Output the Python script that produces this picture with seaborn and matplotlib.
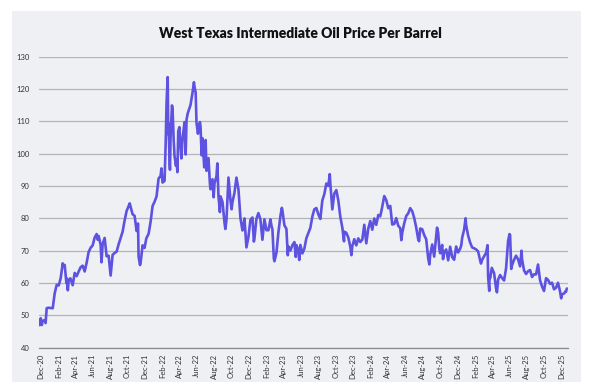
import matplotlib
matplotlib.use("Agg")
import matplotlib.pyplot as plt
import pandas as pd
import seaborn as sns

# ---- data (WTI, $/barrel) ----
dates_2020 = ["2020-12-14", "2020-12-18", "2020-12-22", "2020-12-24", "2020-12-31"]
prices_2020 = [46.99, 49.10, 47.02, 48.23, 48.52]

dates_2021 = ["2021-01-04", "2021-01-08", "2021-01-15", "2021-01-22", "2021-01-29", "2021-02-05", "2021-02-12",
              "2021-02-19", "2021-02-26", "2021-03-05", "2021-03-08", "2021-03-12", "2021-03-18", "2021-03-19",
              "2021-03-23", "2021-03-26", "2021-04-01", "2021-04-09", "2021-04-16", "2021-04-23", "2021-04-30",
              "2021-05-07", "2021-05-14", "2021-05-21", "2021-05-28", "2021-06-04", "2021-06-11", "2021-06-18",
              "2021-06-25", "2021-07-02", "2021-07-06", "2021-07-09", "2021-07-16", "2021-07-19", "2021-07-23",
              "2021-07-30", "2021-08-06", "2021-08-13", "2021-08-20", "2021-08-27", "2021-09-03", "2021-09-10",
              "2021-09-17", "2021-09-24", "2021-10-01", "2021-10-08", "2021-10-15", "2021-10-22", "2021-10-26",
              "2021-10-29", "2021-11-05", "2021-11-12", "2021-11-19", "2021-11-24", "2021-11-26", "2021-12-01",
              "2021-12-03", "2021-12-10", "2021-12-17", "2021-12-23", "2021-12-31"]
prices_2021 = [47.62, 52.24, 52.36, 52.27, 52.20, 56.85, 59.47,
               59.24, 61.50, 66.09, 65.05, 65.61, 60.00, 61.42,
               57.76, 60.97, 61.45, 59.32, 63.13, 62.14, 63.58,
               64.90, 65.37, 63.58, 66.32, 69.62, 70.91, 71.64,
               74.05, 75.16, 73.37, 74.56, 71.81, 66.42, 72.07,
               73.95, 68.28, 68.44, 62.32, 68.74, 69.29, 69.72,
               71.97, 73.98, 75.88, 79.35, 82.28, 83.76, 84.65,
               83.57, 81.27, 80.79, 76.10, 78.39, 68.15, 65.57,
               66.26, 71.67, 70.86, 73.79, 75.21]

dates_2022 = ["2022-01-07", "2022-01-14", "2022-01-21", "2022-01-28", "2022-02-04", "2022-02-11", "2022-02-14",
              "2022-02-18", "2022-02-25", "2022-03-01", "2022-03-04", "2022-03-08", "2022-03-10", "2022-03-11",
              "2022-03-15", "2022-03-16", "2022-03-18", "2022-03-23", "2022-03-25", "2022-03-29", "2022-04-01",
              "2022-04-06", "2022-04-08", "2022-04-11", "2022-04-14", "2022-04-18", "2022-04-22", "2022-04-25",
              "2022-04-29", "2022-05-06", "2022-05-10", "2022-05-13", "2022-05-17", "2022-05-20", "2022-05-27",
              "2022-06-03", "2022-06-08", "2022-06-10", "2022-06-14", "2022-06-17", "2022-06-22", "2022-06-24",
              "2022-06-29", "2022-07-01", "2022-07-05", "2022-07-08", "2022-07-14", "2022-07-15", "2022-07-19",
              "2022-07-22", "2022-07-29", "2022-08-03", "2022-08-05", "2022-08-12", "2022-08-16", "2022-08-19",
              "2022-08-26", "2022-08-29", "2022-09-02", "2022-09-07", "2022-09-09", "2022-09-16", "2022-09-23",
              "2022-09-26", "2022-09-30", "2022-10-07", "2022-10-14", "2022-10-18", "2022-10-21", "2022-10-28",
              "2022-11-04", "2022-11-11", "2022-11-18", "2022-11-25", "2022-11-28", "2022-12-02", "2022-12-09",
              "2022-12-16", "2022-12-23", "2022-12-30"]
prices_2022 = [78.90, 83.82, 85.14, 86.82, 92.31, 93.10, 95.46,
               91.07, 91.59, 103.41, 115.68, 123.70, 106.02, 109.33,
               96.44, 95.04, 104.70, 114.93, 113.90, 104.24, 99.27,
               96.23, 98.26, 94.29, 106.95, 108.21, 102.07, 98.54,
               104.69, 109.77, 99.76, 110.49, 112.40, 113.23, 115.07,
               118.87, 122.11, 120.67, 118.93, 109.56, 106.19, 107.62,
               109.78, 108.43, 99.50, 104.79, 95.78, 97.59, 104.22,
               94.70, 98.62, 90.66, 89.01, 92.09, 86.53, 90.77,
               93.06, 97.01, 86.87, 81.94, 86.79, 85.11, 78.74,
               76.71, 79.49, 92.64, 85.61, 82.82, 85.05, 87.90,
               92.61, 88.96, 80.08, 76.28, 77.24, 79.98, 71.02,
               74.29, 79.56, 80.26]

dates_2023 = ["2023-01-04", "2023-01-06", "2023-01-13", "2023-01-20", "2023-01-27", "2023-02-03", "2023-02-10",
              "2023-02-17", "2023-02-24", "2023-03-03", "2023-03-07", "2023-03-10", "2023-03-15", "2023-03-17",
              "2023-03-24", "2023-03-31", "2023-04-07", "2023-04-12", "2023-04-14", "2023-04-21", "2023-04-28",
              "2023-05-03", "2023-05-05", "2023-05-12", "2023-05-19", "2023-05-26", "2023-05-31", "2023-06-02",
              "2023-06-09", "2023-06-12", "2023-06-16", "2023-06-23", "2023-06-30", "2023-07-07", "2023-07-14",
              "2023-07-21", "2023-07-28", "2023-08-04", "2023-08-11", "2023-08-18", "2023-08-25", "2023-09-01",
              "2023-09-08", "2023-09-15", "2023-09-22", "2023-09-27", "2023-09-29", "2023-10-06", "2023-10-13",
              "2023-10-20", "2023-10-27", "2023-11-03", "2023-11-10", "2023-11-16", "2023-11-17", "2023-11-24",
              "2023-12-01", "2023-12-08", "2023-12-12", "2023-12-15", "2023-12-22", "2023-12-29"]
prices_2023 = [72.84, 73.77, 79.86, 81.64, 79.68, 73.39, 79.72,
               76.34, 76.32, 79.68, 77.58, 76.68, 67.61, 66.74,
               69.26, 75.67, 80.70, 83.26, 82.52, 77.87, 76.78,
               68.60, 71.34, 70.04, 71.69, 72.67, 68.09, 71.74,
               70.17, 67.12, 71.78, 69.16, 70.64, 73.86, 75.42,
               77.07, 80.58, 82.82, 83.19, 81.25, 79.83, 85.55,
               87.51, 90.77, 90.03, 93.68, 90.79, 82.79, 87.69,
               88.75, 85.54, 80.51, 77.17, 72.90, 75.89, 75.54,
               74.07, 71.23, 68.61, 71.43, 73.56, 71.65]

dates_2024 = ["2024-01-05", "2024-01-12", "2024-01-19", "2024-01-26", "2024-02-02", "2024-02-09", "2024-02-16",
              "2024-02-23", "2024-03-01", "2024-03-08", "2024-03-15", "2024-03-22", "2024-03-28", "2024-04-05",
              "2024-04-12", "2024-04-19", "2024-04-26", "2024-05-03", "2024-05-10", "2024-05-17", "2024-05-24",
              "2024-05-31", "2024-06-04", "2024-06-07", "2024-06-14", "2024-06-21", "2024-06-28", "2024-07-05",
              "2024-07-12", "2024-07-19", "2024-07-26", "2024-08-02", "2024-08-05", "2024-08-09", "2024-08-16",
              "2024-08-23", "2024-08-30", "2024-09-06", "2024-09-10", "2024-09-13", "2024-09-20", "2024-09-27",
              "2024-10-04", "2024-10-07", "2024-10-11", "2024-10-15", "2024-10-18", "2024-10-25", "2024-10-28",
              "2024-11-01", "2024-11-08", "2024-11-15", "2024-11-22", "2024-11-29", "2024-12-06", "2024-12-13",
              "2024-12-20", "2024-12-27", "2024-12-31"]
prices_2024 = [73.81, 72.68, 73.41, 78.01, 72.28, 76.84, 79.19,
               76.49, 79.97, 78.01, 81.04, 80.63, 83.17, 86.91,
               85.66, 83.14, 83.85, 78.11, 78.26, 80.06, 77.72,
               76.99, 73.25, 75.53, 78.45, 80.73, 81.54, 83.16,
               82.21, 80.13, 77.16, 73.52, 72.94, 76.84, 76.65,
               74.83, 73.55, 67.67, 65.75, 68.65, 71.92, 68.18,
               74.38, 77.14, 75.56, 70.58, 69.22, 71.78, 67.38,
               69.49, 70.38, 67.02, 71.24, 68.00, 67.20, 71.29,
               69.46, 70.60, 71.72]

dates_2025 = ["2025-01-03", "2025-01-10", "2025-01-15", "2025-01-17", "2025-01-24", "2025-01-31", "2025-02-07",
              "2025-02-14", "2025-02-21", "2025-02-28", "2025-03-07", "2025-03-10", "2025-03-14", "2025-03-21",
              "2025-03-28", "2025-04-02", "2025-04-04", "2025-04-08", "2025-04-09", "2025-04-11", "2025-04-17",
              "2025-04-25", "2025-05-02", "2025-05-05", "2025-05-09", "2025-05-16", "2025-05-23", "2025-05-30",
              "2025-06-06", "2025-06-13", "2025-06-18", "2025-06-20", "2025-06-24", "2025-06-27", "2025-07-03",
              "2025-07-11", "2025-07-18", "2025-07-25", "2025-07-30", "2025-08-01", "2025-08-08", "2025-08-15",
              "2025-08-22", "2025-08-29", "2025-09-05", "2025-09-12", "2025-09-19", "2025-09-26", "2025-10-03",
              "2025-10-10", "2025-10-17", "2025-10-24", "2025-10-31", "2025-11-07", "2025-11-14", "2025-11-21",
              "2025-11-28", "2025-12-05", "2025-12-12", "2025-12-16", "2025-12-19", "2025-12-26", "2025-12-31",
              "2026-01-02", "2026-01-05"]
prices_2025 = [73.96, 76.57, 80.04, 77.88, 74.66, 72.53, 71.00,
               70.74, 70.40, 69.76, 67.04, 66.03, 67.18, 68.28,
               69.36, 71.71, 61.99, 57.58, 62.35, 61.50, 64.68,
               63.02, 58.29, 57.13, 61.02, 62.49, 61.53, 60.79,
               64.58, 72.98, 75.14, 74.93, 64.37, 65.52, 67.00,
               68.45, 67.34, 65.16, 70.00, 67.33, 63.88, 62.80,
               63.66, 64.01, 61.87, 62.69, 62.68, 65.72, 60.88,
               58.90, 57.54, 61.50, 60.98, 59.75, 60.09, 58.06,
               58.55, 60.08, 57.44, 55.27, 56.52, 56.74, 57.42,
               57.32, 58.32]

y_ticks = [40, 50, 60, 70, 80, 90, 100, 110, 120, 130]
title = "West Texas Intermediate Oil Price Per Barrel"

# ---- build frame ----
all_dates = dates_2020 + dates_2021 + dates_2022 + dates_2023 + dates_2024 + dates_2025
all_prices = prices_2020 + prices_2021 + prices_2022 + prices_2023 + prices_2024 + prices_2025
df = pd.DataFrame({"date": pd.to_datetime(all_dates), "price": all_prices})

sns.set_style("white")
plt.rcParams["font.family"] = ["Lato", "DejaVu Sans"]

fig = plt.figure(figsize=(6.0, 3.91), dpi=100)
fig.patch.set_facecolor("white")

# light panel behind the chart
bg = fig.add_axes([12 / 600, 9 / 391, 569 / 600, 371 / 391], zorder=0)
bg.set_facecolor("#eff0f4")
bg.set_xticks([])
bg.set_yticks([])
for s in bg.spines.values():
    s.set_visible(False)

ax = fig.add_axes([39.3 / 600, 43.3 / 391, 528.7 / 600, 291.0 / 391], zorder=1)
ax.set_facecolor("none")

sns.lineplot(data=df, x="date", y="price", ax=ax, color="#5e52e0",
             linewidth=1.9, estimator=None, zorder=3)

ax.set_ylim(40, 130)
ax.set_yticks(y_ticks)
ax.set_xlim(pd.Timestamp("2020-12-13"), pd.Timestamp("2026-01-09"))
xt = pd.date_range("2020-12-01", "2025-12-01", freq="2MS") + pd.Timedelta(days=17)
ax.set_xticks(xt)
ax.set_xticklabels([d.strftime("%b-%y") for d in xt], rotation=90)

ax.grid(axis="y", color="#b3b3b8", linewidth=0.9)
ax.set_axisbelow(True)
for s in ["top", "right", "left"]:
    ax.spines[s].set_visible(False)
ax.spines["bottom"].set_color("#8a8a8a")
ax.spines["bottom"].set_linewidth(0.9)
ax.tick_params(axis="x", length=2.5, width=0.8, color="#8a8a8a", labelsize=5.5,
               labelcolor="#333333", pad=2)
ax.tick_params(axis="y", length=0, labelsize=5.5, labelcolor="#333333", pad=7)
ax.set_xlabel("")
ax.set_ylabel("")

fig.text(0.5, 1 - 33 / 391, title, ha="center", va="center",
         fontsize=10, fontweight="heavy", color="#111111")

fig.savefig("out.png", dpi=100)
